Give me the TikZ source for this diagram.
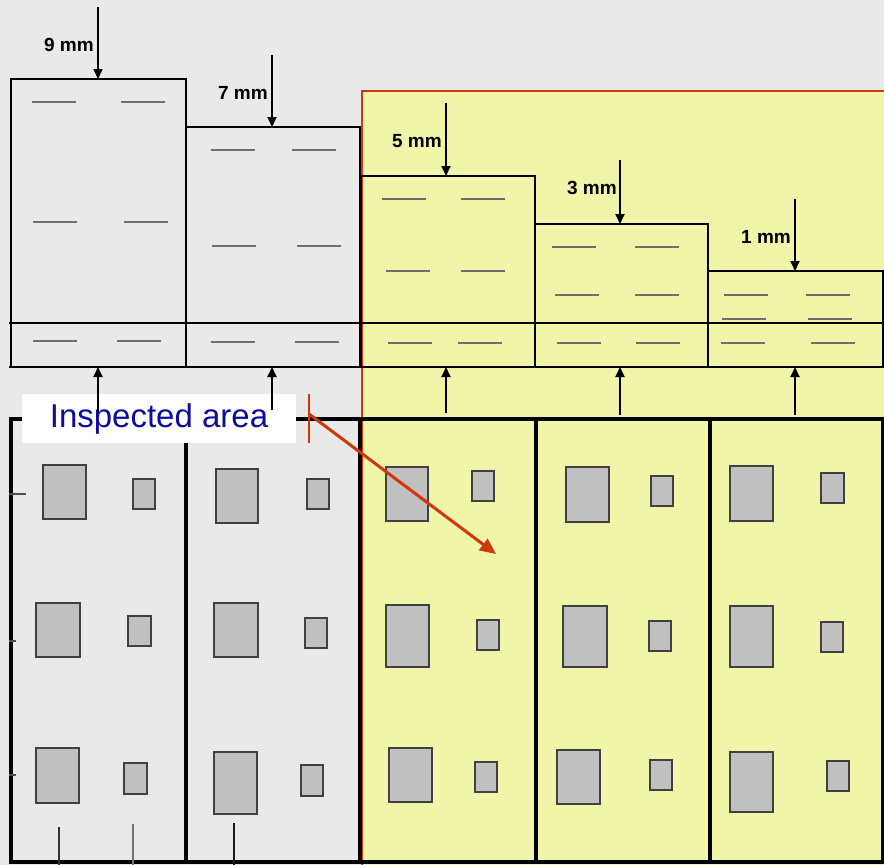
\documentclass[tikz,border=0pt]{standalone}
\usepackage{fontspec}
\setmainfont{Liberation Sans}
\usetikzlibrary{arrows.meta}
\definecolor{bgc}{RGB}{233,233,233}
\definecolor{yel}{RGB}{240,245,170}
\definecolor{redc}{RGB}{208,56,8}
\definecolor{bluec}{RGB}{12,12,160}
\definecolor{dashc}{RGB}{110,110,110}
\definecolor{padc}{RGB}{192,192,192}
\tikzset{
  frame/.style={draw=black,line width=2.8pt},
  thinframe/.style={draw=black,line width=1.8pt},
  dashmark/.style={draw=dashc,line width=1.8pt},
  pad/.style={draw=black!75,line width=1.6pt,fill=padc},
  ptr/.style={draw=black,line width=1.8pt,-{Triangle[length=10pt,width=9pt]}},
  mm/.style={font=\bfseries\fontsize{19}{22}\selectfont,anchor=base east,inner sep=1pt},
}
\begin{document}
\begin{tikzpicture}[x=1pt,y=-1pt]
\useasboundingbox (0,0) rectangle (884,865);
\fill[bgc] (0,0) rectangle (884,865);
% yellow inspected region
\fill[yel] (361,91) rectangle (884,865);
\draw[redc,line width=2.4pt] (362,865) -- (362,91) -- (884,91);

% top step boxes
\draw[frame] (11,79) rectangle (186,367);
\draw[frame] (186,127) rectangle (360,367);
\draw[frame] (361,176) rectangle (535,367);
\draw[frame] (535,224) rectangle (708,367);
\draw[frame] (708,271) rectangle (883,367);
\draw[thinframe] (9,323) -- (884,323);
\draw[frame] (9,367) -- (884,367);

% dashes
\foreach \y/\a/\b in {102/32/121, 222/33/124, 341/33/117,
  150/211/292, 246/212/297, 342/211/295,
  199/382/461, 271/386/461, 343/388/458,
  247/552/635, 295/555/635, 343/557/636,
  295/724/806, 319/722/808, 343/721/811}
  {\draw[dashmark] (\a,\y) -- ++(44,0); \draw[dashmark] (\b,\y) -- ++(44,0);}

% thickness arrows and labels
\coordinate (t9s) at (98,7);    \coordinate (t9e) at (98,79);
\coordinate (t7s) at (272,55);  \coordinate (t7e) at (272,127);
\coordinate (t5s) at (446,103); \coordinate (t5e) at (446,176);
\coordinate (t3s) at (620,160); \coordinate (t3e) at (620,224);
\coordinate (t1s) at (795,199); \coordinate (t1e) at (795,271);
\draw[ptr] (t9s) -- (t9e);
\draw[ptr] (t7s) -- (t7e);
\draw[ptr] (t5s) -- (t5e);
\draw[ptr] (t3s) -- (t3e);
\draw[ptr] (t1s) -- (t1e);
\node[mm] (l9) at (95,51) {9 mm};
\node[mm] (l7) at (269,99) {7 mm};
\node[mm] (l5) at (443,147) {5 mm};
\node[mm] (l3) at (618,194) {3 mm};
\node[mm] (l1) at (792,243) {1 mm};

% bottom frames
\draw[line width=3.4pt] (11,419) rectangle (883,862);
\foreach \x in {186,360,536,710} \draw[line width=3.4pt] (\x,419) -- (\x,862);

% pads
\foreach \xa/\ya/\xb/\yb in {
  43/465/86/519, 133/479/155/509, 36/603/80/657, 128/616/151/646, 36/748/79/803, 124/763/147/794,
  216/469/258/523, 307/479/329/509, 214/603/258/657, 305/618/327/648, 214/752/257/814, 301/765/323/796,
  386/467/428/521, 472/471/494/501, 386/605/429/667, 477/620/499/650, 389/748/432/802, 475/762/497/792,
  566/467/609/522, 651/476/673/506, 563/606/607/667, 649/621/671/651, 557/750/600/804, 650/760/672/790,
  730/466/773/521, 821/473/844/503, 730/606/773/667, 821/622/843/652, 730/752/773/812, 827/761/849/791}
  {\draw[pad] (\xa,\ya) rectangle (\xb,\yb);}

% left ticks and bottom ticks
\draw[black!70,line width=1.2pt] (9,494) -- (26,494);
\draw[black!70,line width=1.2pt] (9,641) -- (16,641);
\draw[black!70,line width=1.2pt] (9,775) -- (16,775);
\draw[black!80,line width=1.2pt] (59,827) -- (59,865);
\draw[black!55,line width=1.4pt] (133,824) -- (133,865);
\draw[black!90,line width=1.2pt] (234,823) -- (234,865);

% label
\node[fill=white,minimum width=274pt,minimum height=49pt,inner sep=0pt,
  text=bluec,font=\fontsize{33}{36}\selectfont] (lab) at (159,418.5) {Inspected area};

% upward arrows
\coordinate (u1) at (98,412);  \coordinate (v1) at (98,367);
\coordinate (u2) at (272,410); \coordinate (v2) at (272,367);
\coordinate (u3) at (446,413); \coordinate (v3) at (446,367);
\coordinate (u4) at (620,415); \coordinate (v4) at (620,367);
\coordinate (u5) at (795,415); \coordinate (v5) at (795,367);
\foreach \i in {1,...,5} \draw[ptr] (u\i) -- (v\i);

% red pointer
\coordinate (rt) at (309,394); \coordinate (rb) at (309,443);
\coordinate (rs) at (309,414); \coordinate (re) at (496,554);
\draw[redc,line width=2pt] (rt) -- (rb);
\draw[redc,line width=3pt,-{Triangle[length=16pt,width=14pt]}] (rs) -- (re);
\end{tikzpicture}
\end{document}
